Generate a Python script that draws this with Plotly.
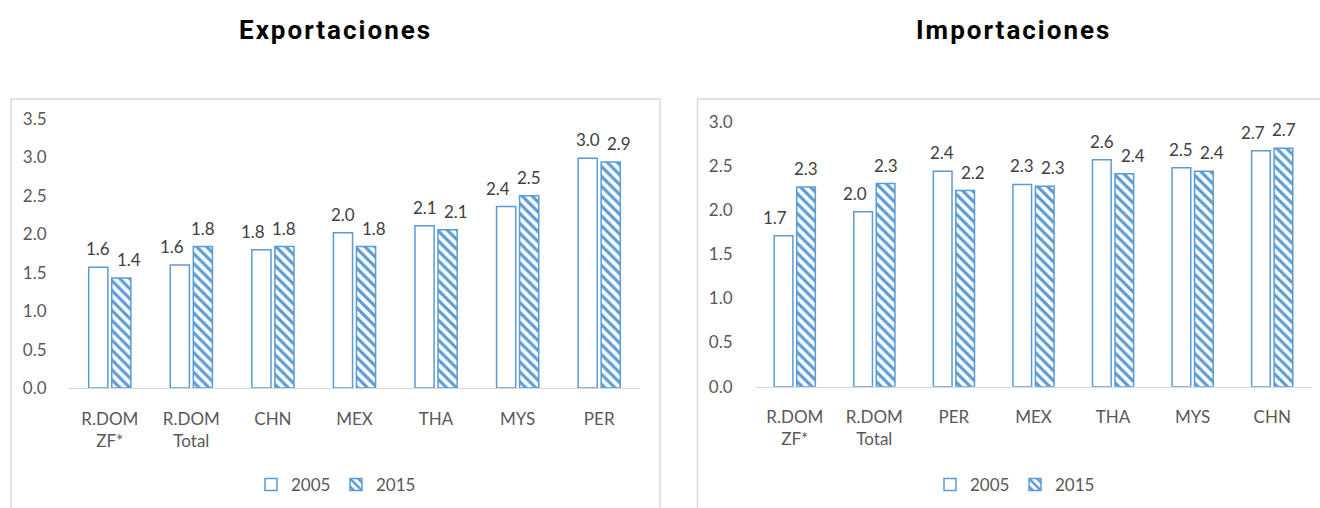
import plotly.graph_objects as go

# ---- data ----
exp_categories = ["R.DOM<br>ZF*", "R.DOM<br>Total", "CHN", "MEX", "THA", "MYS", "PER"]
exp_2005 = [1.57, 1.60, 1.80, 2.02, 2.11, 2.36, 2.99]
exp_2015 = [1.43, 1.84, 1.84, 1.84, 2.06, 2.50, 2.94]

imp_categories = ["R.DOM<br>ZF*", "R.DOM<br>Total", "PER", "MEX", "THA", "MYS", "CHN"]
imp_2005 = [1.71, 1.98, 2.44, 2.29, 2.57, 2.48, 2.67]
imp_2015 = [2.26, 2.30, 2.22, 2.27, 2.41, 2.44, 2.70]

series_names = ["2005", "2015"]
titles = ["Exportaciones", "Importaciones"]

W, H = 1320, 508
BLUE = "#5B9BD5"
FONT = "Lato"
TXT = "#595959"
LBL = "#404040"

def px(x):
    return x / W

def py(y):
    return 1 - y / H

fig = go.Figure()
annotations = []

def add_pair(cats, v05, v15, xa, ya, legend):
    fig.add_trace(go.Bar(
        x=cats, y=v05, name=series_names[0], xaxis=xa, yaxis=ya, legend=legend,
        marker=dict(color="white", line=dict(color=BLUE, width=1.5)),
        hoverinfo="skip",
    ))
    fig.add_trace(go.Bar(
        x=cats, y=v15, name=series_names[1], xaxis=xa, yaxis=ya, legend=legend,
        marker=dict(color="white", line=dict(color=BLUE, width=1.5),
                    pattern=dict(shape="\\", fgcolor=BLUE, bgcolor="white",
                                 size=7, solidity=0.45, fillmode="replace")),
        hoverinfo="skip",
    ))
    # value labels: centred above each bar; the lower label of a pair nudged outward
    for c, a, b in zip(cats, v05, v15):
        for val, side, lower in ((a, -1, a < b), (b, 1, b < a)):
            annotations.append(dict(
                x=c, y=val, xref=xa, yref=ya, text=f"{val:.1f}", showarrow=False,
                xanchor="center", yanchor="bottom",
                xshift=side * 11.5 + (side * 8 if lower else 0), yshift=6,
                font=dict(family=FONT, size=17, color=LBL)))

add_pair(exp_categories, exp_2005, exp_2015, "x", "y", "legend")
add_pair(imp_categories, imp_2005, imp_2015, "x2", "y2", "legend2")

xcommon = dict(showline=True, linecolor="#D9D9D9", linewidth=1.3, showgrid=False,
               ticks="outside", ticklen=15, tickcolor="rgba(0,0,0,0)",
               tickfont=dict(family=FONT, size=17, color=TXT), fixedrange=True,
               automargin=False)
ycommon = dict(showline=False, showgrid=False, zeroline=False, dtick=0.5,
               tickformat=".1f", ticks="outside", ticklen=18,
               tickcolor="rgba(0,0,0,0)",
               tickfont=dict(family=FONT, size=17, color=TXT), fixedrange=True,
               automargin=False)

legend_common = dict(orientation="h", yanchor="middle", xanchor="left",
                     font=dict(family=FONT, size=17, color=TXT),
                     bgcolor="rgba(0,0,0,0)", itemwidth=30, traceorder="normal",
                     entrywidth=40, entrywidthmode="pixels")

shapes = [
    dict(type="rect", xref="paper", yref="paper", x0=px(11), x1=px(660),
         y0=-0.1, y1=py(99), line=dict(color="#D9D9D9", width=1.5),
         fillcolor="rgba(0,0,0,0)", layer="below"),
    dict(type="rect", xref="paper", yref="paper", x0=px(697.5), x1=px(1330),
         y0=-0.1, y1=py(99), line=dict(color="#D9D9D9", width=1.5),
         fillcolor="rgba(0,0,0,0)", layer="below"),
]

for t, xc in zip(titles, (335, 1013)):
    annotations.append(dict(
        text="<b>" + t + "</b>", x=px(xc), y=py(30), xref="paper", yref="paper",
        showarrow=False, xanchor="center", yanchor="middle",
        font=dict(family="Roboto", size=26, color="black")))

fig.update_layout(
    width=W, height=H,
    margin=dict(l=0, r=0, t=0, b=0, autoexpand=False),
    paper_bgcolor="white", plot_bgcolor="white",
    barmode="group", bargap=0.435, bargroupgap=0.17,
    xaxis=dict(domain=[px(69), px(640)], anchor="y", **xcommon),
    yaxis=dict(domain=[py(388), py(119)], anchor="x", range=[0, 3.5], **ycommon),
    xaxis2=dict(domain=[px(755), px(1312)], anchor="y2", **xcommon),
    yaxis2=dict(domain=[py(386.7), py(121.7)], anchor="x2", range=[0, 3.0], **ycommon),
    legend=dict(x=px(251), y=py(485), **legend_common),
    legend2=dict(x=px(930), y=py(485), **legend_common),
    shapes=shapes,
    annotations=annotations,
)

post = (
    "document.body.style.margin='0';"
    "document.querySelectorAll('.annotation-text').forEach(function(t){"
    "if (t.textContent.length > 5) { t.style.letterSpacing='2px'; }});"
)
fig.write_html("out.html", post_script=post, config={"displayModeBar": False})
